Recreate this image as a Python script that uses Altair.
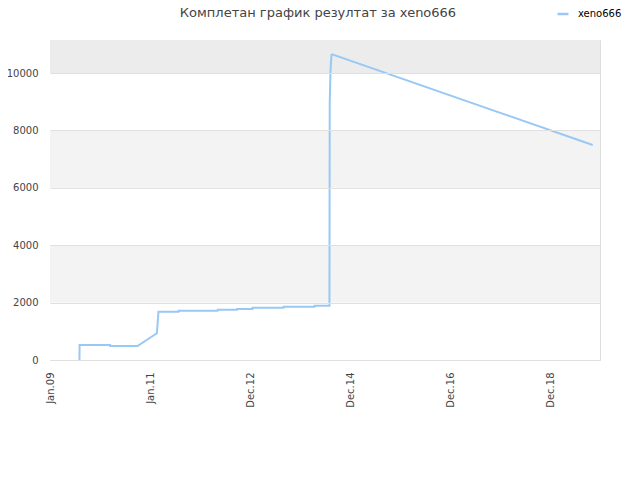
import altair as alt
import pandas as pd

# data
dates = [
    "2009-08-04", "2009-08-05", "2010-03-16", "2010-03-17", "2010-10-02",
    "2011-02-20", "2011-03-04", "2011-07-28", "2011-07-29", "2012-05-08",
    "2012-05-09", "2012-09-26", "2012-09-27", "2013-01-18", "2013-01-19",
    "2013-09-02", "2013-09-03", "2014-04-16", "2014-04-17", "2014-08-03",
    "2014-08-05", "2014-08-11", "2014-08-18", "2014-08-23", "2019-11-07",
]
values = [
    0, 523, 523, 488, 488,
    930, 1685, 1685, 1720, 1720,
    1754, 1754, 1779, 1779, 1824,
    1824, 1859, 1859, 1894, 1894,
    8944, 10127, 10627, 10650, 7491,
]
series_name = "xeno666"

band_lo = [0, 2000, 4000, 6000, 8000, 10000]
band_hi = [2000, 4000, 6000, 8000, 10000, 11150]
band_fill = ["#ffffff", "#f3f3f3", "#ffffff", "#f3f3f3", "#ffffff", "#ececec"]

y_ticks = [0, 2000, 4000, 6000, 8000, 10000]
x_ticks = ["2009-01-01", "2011-01-01", "2012-12-31", "2014-12-31", "2016-12-30", "2018-12-30"]
x_domain = ["2009-01-01", "2019-12-30"]
title_text = "Комплетан график резултат за xeno666"

df = pd.DataFrame({"date": dates, "value": values, "name": [series_name] * len(dates)})
bands = pd.DataFrame({"lo": band_lo, "hi": band_hi, "fill": band_fill})
title_df = pd.DataFrame({"t": [title_text]})

def dt(s):
    y, m, d = (int(p) for p in s.split("-"))
    return alt.DateTime(year=y, month=m, date=d, utc=True)

yscale = alt.Scale(domain=[0, 11150], nice=False, zero=False)

band_layer = alt.Chart(bands).mark_rect().encode(
    y=alt.Y("lo:Q", scale=yscale,
            axis=alt.Axis(values=y_ticks, format="d", grid=True, gridColor="#e0e0e0",
                          ticks=False, domain=False, labelPadding=12, labelFontSize=10,
                          labelColor="#444444", labelFont="DejaVu Sans", zindex=1),
            title=None),
    y2="hi:Q",
    fill=alt.Fill("fill:N", scale=None),
)

line_layer = alt.Chart(df).mark_line(strokeWidth=2, interpolate="linear").encode(
    x=alt.X("date:T",
            scale=alt.Scale(type="utc", domain=[dt(x_domain[0]), dt(x_domain[1])], nice=False),
            axis=alt.Axis(values=[dt(s) for s in x_ticks], format="%b.%y", labelAngle=270,
                          grid=False, ticks=False, domain=False, labelPadding=12,
                          labelFontSize=10, labelColor="#444444", labelFont="DejaVu Sans"),
            title=None),
    y=alt.Y("value:Q", scale=yscale),
    color=alt.Color("name:N",
                    scale=alt.Scale(domain=[series_name], range=["#99c8f5"]),
                    legend=alt.Legend(title=None, orient="none", legendX=506, legendY=-33,
                                      symbolType="stroke", symbolSize=121, symbolStrokeWidth=2.5,
                                      labelOffset=8, labelFontSize=10, labelColor="#000000",
                                      labelFont="DejaVu Sans", padding=0)),
)

title_layer = alt.Chart(title_df).mark_text(
    align="center", baseline="alphabetic", fontSize=13, font="DejaVu Sans",
    color="#444444",
).encode(x=alt.value(268), y=alt.value(-23), text="t:N")

chart = alt.layer(band_layer, line_layer, title_layer).properties(
    width=550,
    height=320,
    autosize=alt.AutoSizeParams(type="none"),
    padding={"left": 42, "top": 32, "right": 32, "bottom": 112},
).configure_view(stroke="#d9d9d9", strokeWidth=1).configure(background="#ffffff")

chart.save("out.html", embed_options={"renderer": "svg", "actions": False})
